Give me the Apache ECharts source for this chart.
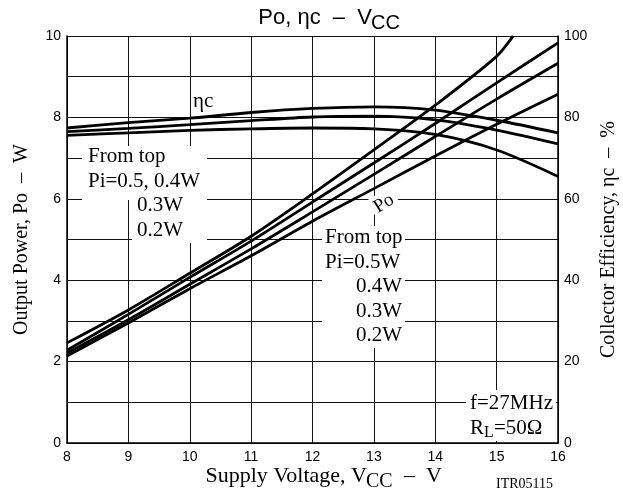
<!DOCTYPE html>
<html>
<head>
<meta charset="utf-8">
<script src="https://cdn.jsdelivr.net/npm/echarts@6/dist/echarts.min.js"></script>
<style>
  html, body { margin: 0; padding: 0; background: #fff; }
  #chart { width: 623px; height: 496px; }
</style>
</head>
<body>
<div id="chart"></div>
<script>
// supply voltage points (V)
const vcc = [8, 9, 10, 11, 12, 13, 14, 15, 16]
// the 0.5W output curve leaves the top of the chart before 16 V
const vccTop = [8, 9, 10, 11, 12, 13, 14, 15, 15.27]

// output power Po (W), from top Pi=0.5, 0.4, 0.3, 0.2 W
const po05 = [2.46, 3.27, 4.17, 5.08, 6.12, 7.2, 8.3, 9.5, 10.0]
const po04 = [2.28, 3.16, 4.07, 4.96, 5.92, 6.88, 7.85, 8.85, 9.83]
const po03 = [2.21, 3.03, 3.9, 4.77, 5.68, 6.6, 7.53, 8.45, 9.33]
const po02 = [2.14, 2.95, 3.79, 4.6, 5.45, 6.25, 7.05, 7.83, 8.57]

// collector efficiency (%), from top Pi=0.5/0.4 W, 0.3 W, 0.2 W
const eta0504 = [77.4, 78.7, 79.8, 81.2, 82.2, 82.6, 81.8, 79.3, 76.2]
const eta03 = [76.5, 77.3, 78.2, 79.2, 80.1, 80.3, 79.4, 76.9, 73.5]
const eta02 = [75.6, 76.2, 76.8, 77.2, 77.4, 77.2, 75.8, 72.0, 65.5]

const leftTicks = [0, 2, 4, 6, 8, 10]
const rightTicks = [0, 20, 40, 60, 80, 100]

const SERIF = 'Liberation Serif'
const SANS = 'Liberation Sans'

function pairs (xs, ys) {
  return ys.map((y, i) => [xs[i], y])
}

function curve (data, axisIndex) {
  return {
    type: 'line',
    yAxisIndex: axisIndex,
    data: data,
    smooth: 0.3,
    showSymbol: false,
    silent: true,
    z: 3,
    lineStyle: { color: '#000', width: 2.8 }
  }
}

function label (x, y, text, opts) {
  return {
    type: 'text',
    x: x,
    y: y,
    z: 2,
    style: {
      text: text,
      fill: '#000',
      font: ((opts && opts.size) || 21) + 'px "' + ((opts && opts.family) || SERIF) + '"',
      align: (opts && opts.align) || 'left',
      verticalAlign: 'middle'
    }
  }
}

function whiteBox (x, y, w, h) {
  return { type: 'rect', z: 1, shape: { x: x, y: y, width: w, height: h }, style: { fill: '#fff' } }
}

const chart = echarts.init(document.getElementById('chart'))
chart.setOption({
  animation: false,
  backgroundColor: '#fff',
  grid: { left: 67, right: 65, top: 36, bottom: 53, outerBoundsMode: 'none' },
  xAxis: {
    type: 'value',
    min: 8,
    max: 16,
    interval: 1,
    axisLine: { lineStyle: { color: '#000', width: 1.5 } },
    axisTick: { show: false },
    axisLabel: { color: '#000', fontFamily: SANS, fontSize: 14, margin: 7 },
    splitLine: { show: true, lineStyle: { color: '#111', width: 1 } }
  },
  yAxis: [
    {
      type: 'value',
      min: 0,
      max: 10,
      interval: 1,
      name: 'Output Power, Po  –  W',
      nameLocation: 'middle',
      nameRotate: 90,
      nameGap: 35,
      nameTextStyle: { color: '#000', fontFamily: SERIF, fontSize: 20 },
      axisLine: { show: true, lineStyle: { color: '#000', width: 1.5 } },
      axisTick: { show: false },
      axisLabel: {
        color: '#000',
        fontFamily: SANS,
        fontSize: 14,
        margin: 6,
        formatter: v => (leftTicks.indexOf(v) >= 0 ? v : '')
      },
      splitLine: { show: true, lineStyle: { color: '#111', width: 1 } }
    },
    {
      type: 'value',
      min: 0,
      max: 100,
      interval: 10,
      position: 'right',
      name: 'Collector Efficiency, ηc  –  %',
      nameLocation: 'middle',
      nameRotate: 90,
      nameGap: 37,
      nameTextStyle: { color: '#000', fontFamily: SERIF, fontSize: 20 },
      axisLine: { show: true, lineStyle: { color: '#000', width: 1.5 } },
      axisTick: { show: false },
      axisLabel: {
        color: '#000',
        fontFamily: SANS,
        fontSize: 14,
        margin: 6,
        formatter: v => (rightTicks.indexOf(v) >= 0 ? v : '')
      },
      splitLine: { show: false }
    }
  ],
  series: [
    curve(pairs(vccTop, po05), 0),
    curve(pairs(vcc, po04), 0),
    curve(pairs(vcc, po03), 0),
    curve(pairs(vcc, po02), 0),
    curve(pairs(vcc, eta0504), 1),
    curve(pairs(vcc, eta03), 1),
    curve(pairs(vcc, eta02), 1)
  ],
  graphic: [
    // title
    label(372, 18, 'Po, ηc  –  V', { family: SANS, size: 22, align: 'right' }),
    label(371, 23, 'CC', { family: SANS, size: 20 }),
    // x axis title
    label(367, 476, 'Supply Voltage, V', { size: 22, align: 'right' }),
    label(366, 482, 'CC', { size: 20 }),
    label(404, 476, '–  V', { size: 22 }),
    label(496, 484, 'ITR05115', { size: 14 }),
    // efficiency label
    label(193, 101, 'ηc', {}),
    // left block
    whiteBox(82, 146, 125, 54),
    whiteBox(132, 192, 75, 51),
    label(88, 156, 'From top', {}),
    label(88, 181, 'Pi=0.5, 0.4W', {}),
    label(137, 205, '0.3W', {}),
    label(137, 230, '0.2W', {}),
    // Po label
    {
      type: 'text',
      x: 366,
      y: 201,
      z: 2,
      rotation: 0.55,
      style: {
        text: 'Po',
        fill: '#000',
        font: '19px "' + SERIF + '"',
        backgroundColor: '#fff',
        padding: [2, 4, 2, 4]
      }
    },
    // right block
    whiteBox(322, 226, 83, 122),
    label(325, 237, 'From top', {}),
    label(325, 262, 'Pi=0.5W', {}),
    label(402, 286, '0.4W', { align: 'right' }),
    label(402, 311, '0.3W', { align: 'right' }),
    label(402, 335, '0.2W', { align: 'right' }),
    // conditions
    whiteBox(466, 390, 90, 51),
    label(470, 403, 'f=27MHz', {}),
    label(470, 428, 'R', {}),
    label(484, 433, 'L', { size: 16 }),
    label(494, 428, '=50Ω', {})
  ]
})
</script>
</body>
</html>
